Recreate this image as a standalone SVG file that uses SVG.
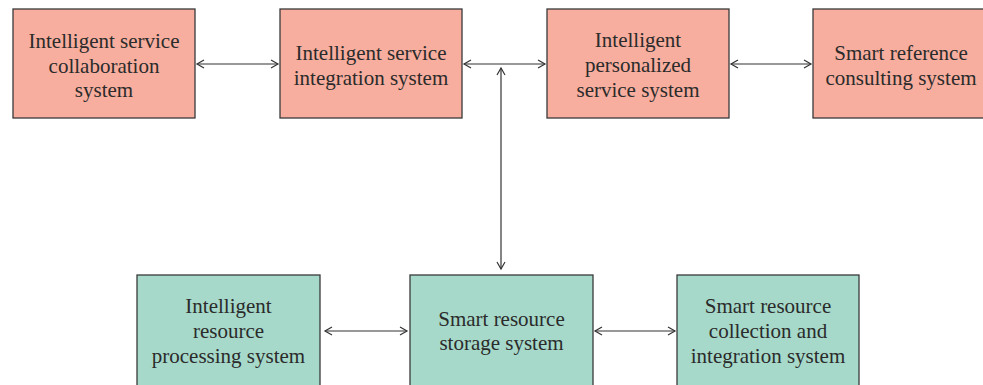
<svg xmlns="http://www.w3.org/2000/svg" width="983" height="385" viewBox="0 0 983 385">
<style>
.top{fill:#F7AE9E;stroke:#3a3a3a;stroke-width:1.3}
.bot{fill:#A6D9CA;stroke:#3a3a3a;stroke-width:1.3}
text{font-family:"Liberation Serif","Times New Roman",serif;font-size:21px;fill:#2b2b2b;text-anchor:middle}
.conn line{stroke:#333;stroke-width:1.2;fill:none;marker-start:url(#ah);marker-end:url(#ah)}
</style>
<defs>
<marker id="ah" markerUnits="userSpaceOnUse" markerWidth="12" markerHeight="12" viewBox="-8 -6 10 12" refX="0" refY="0" orient="auto-start-reverse">
<path d="M-7,-4 L0,0 L-7,4" fill="none" stroke="#333" stroke-width="1.2"/>
</marker>
</defs>
<rect width="983" height="385" fill="#fff"/>
<g id="n1"><rect class="top" x="13" y="9" width="182" height="109"/>
<text x="104" y="48">Intelligent service</text><text x="104" y="73">collaboration</text><text x="104" y="97">system</text></g>
<g id="n2"><rect class="top" x="280" y="9" width="182" height="109"/>
<text x="371" y="60">Intelligent service</text><text x="371" y="85">integration system</text></g>
<g id="n3"><rect class="top" x="547" y="9" width="182" height="109"/>
<text x="638" y="47">Intelligent</text><text x="638" y="72">personalized</text><text x="638" y="97">service system</text></g>
<g id="n4"><rect class="top" x="813" y="9" width="182" height="109"/>
<text x="901" y="60">Smart reference</text><text x="901" y="85">consulting system</text></g>
<g id="n5"><rect class="bot" x="137" y="275" width="183" height="115"/>
<text x="228.5" y="313">Intelligent</text><text x="228.5" y="338">resource</text><text x="228.5" y="363">processing system</text></g>
<g id="n6"><rect class="bot" x="410" y="275" width="183" height="115"/>
<text x="501.5" y="326">Smart resource</text><text x="501.5" y="350">storage system</text></g>
<g id="n7"><rect class="bot" x="677" y="275" width="182" height="115"/>
<text x="768" y="313">Smart resource</text><text x="768" y="338">collection and</text><text x="768" y="363">integration system</text></g>
<g id="connectors" class="conn">
<line x1="197" y1="64" x2="278" y2="64"/>
<line x1="464" y1="64" x2="545" y2="64"/>
<line x1="731" y1="64" x2="811" y2="64"/>
<line x1="501" y1="68" x2="501" y2="269"/>
<line x1="325" y1="331" x2="407" y2="331"/>
<line x1="595" y1="331" x2="675" y2="331"/>
</g>
</svg>
